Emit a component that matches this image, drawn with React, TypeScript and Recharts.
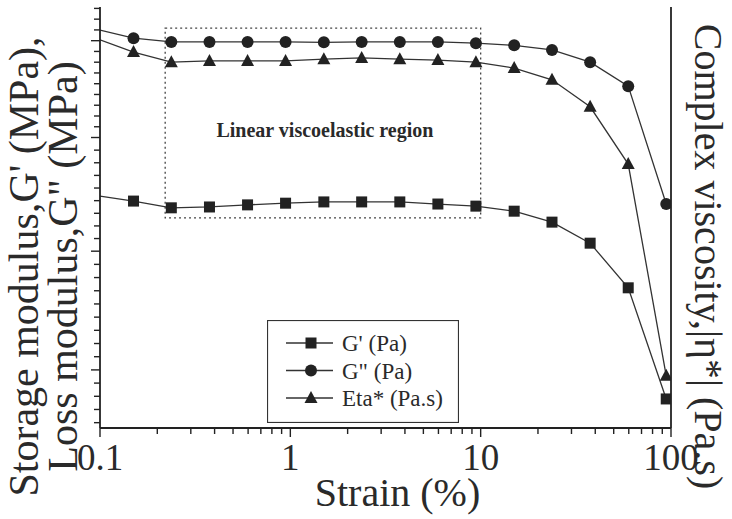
import React from 'react';
import { LineChart, Line, XAxis, YAxis, ReferenceArea } from 'recharts';

// Strain (%) values
const strain = [0.1, 0.15, 0.237, 0.376, 0.596, 0.944, 1.5, 2.37, 3.76, 5.96, 9.44, 15, 23.7, 37.6, 59.6, 94.4];
// Series (relative axis units; axes carry no numeric labels)
const gPrime = [55.1, 53.9, 52.3, 52.5, 53.0, 53.4, 53.7, 53.7, 53.7, 53.2, 52.7, 51.5, 48.9, 43.9, 33.3, 6.9];
const gDouble = [94.5, 92.6, 91.7, 91.7, 91.7, 91.7, 91.6, 91.7, 91.7, 91.7, 91.4, 90.9, 89.8, 86.9, 81.2, 53.2];
const eta = [92.2, 89.3, 86.9, 87.2, 87.2, 87.2, 87.6, 87.9, 87.6, 87.4, 86.9, 85.5, 82.7, 76.3, 62.7, 12.4];

const xDecades = [0.1, 1, 10, 100];
const xTickLabels = ['0.1', '1', '10', '100'];
const leftMajors = [13.8, 42, 69, 92];
const rightMajors = [12.4, 41.6, 67.7, 91.0];

const seriesNames = ["G' (Pa)", 'G" (Pa)', 'Eta* (Pa.s)'];

const data = strain.map((s, i) => ({ strain: s, gp: gPrime[i], gpp: gDouble[i], eta: eta[i] }));

const xTicks: number[] = [];
xDecades.forEach((d, i) => {
  if (i === xDecades.length - 1) { xTicks.push(d); return; }
  for (let k = 1; k <= 9; k++) xTicks.push(k * d);
});

function buildYTicks(majors: number[]) {
  const out: { v: number; major: boolean }[] = [];
  const step0 = (majors[1] - majors[0]) / 9;
  for (let v = majors[0] - step0; v > 0; v -= step0) out.push({ v, major: false });
  for (let i = 0; i < majors.length; i++) {
    out.push({ v: majors[i], major: true });
    if (i < majors.length - 1) {
      const st = (majors[i + 1] - majors[i]) / 9;
      for (let k = 1; k < 9; k++) out.push({ v: majors[i] + k * st, major: false });
    }
  }
  const stEnd = (majors[majors.length - 1] - majors[majors.length - 2]) / 9;
  for (let v = majors[majors.length - 1] + stEnd; v < 100; v += stEnd) out.push({ v, major: false });
  return out.sort((a, b) => a.v - b.v);
}
const leftTickInfo = buildYTicks(leftMajors);
const rightTickInfo = buildYTicks(rightMajors);

const FONT = '"Liberation Serif", "Times New Roman", serif';
const INK = '#222';
const TEXT = '#2a2a2a';

const isDecade = (v: number) => Math.abs(Math.log10(v) - Math.round(Math.log10(v))) < 1e-6;

const BottomTick = (p: any) => {
  const v = p.payload.value;
  const major = isDecade(v);
  const idx = xDecades.findIndex((d) => Math.abs(d - v) < 1e-9);
  return (
    <g>
      <line x1={p.x} x2={p.x} y1={p.y} y2={p.y + (major ? 9 : 6)} stroke={INK} strokeWidth={1.4} />
      {major && idx >= 0 && (
        <text x={p.x} y={p.y + 42} textAnchor="middle" fontSize={37} fontFamily={FONT} fill={TEXT}>
          {xTickLabels[idx]}
        </text>
      )}
    </g>
  );
};

const TopTick = (p: any) => {
  const major = isDecade(p.payload.value);
  return <line x1={p.x} x2={p.x} y1={p.y} y2={p.y + (major ? 9 : 6)} stroke={INK} strokeWidth={1.4} />;
};

const makeYTick = (info: { v: number; major: boolean }[], dir: number) => (p: any) => {
  const it = info.find((t) => Math.abs(t.v - p.payload.value) < 1e-6);
  const len = it && it.major ? 9 : 6;
  return <line x1={p.x} x2={p.x + dir * len} y1={p.y} y2={p.y} stroke={INK} strokeWidth={1.4} />;
};
const LeftTick = makeYTick(leftTickInfo, -1);
const RightTick = makeYTick(rightTickInfo, 1);

const SquareDot = (p: any) =>
  p.index === 0 ? <g key={`s${p.index}`} /> : (
    <rect key={`s${p.index}`} x={p.cx - 5.5} y={p.cy - 5.5} width={11} height={11} fill={INK} />
  );
const CircleDot = (p: any) =>
  p.index === 0 ? <g key={`c${p.index}`} /> : <circle key={`c${p.index}`} cx={p.cx} cy={p.cy} r={6} fill={INK} />;
const TriDot = (p: any) =>
  p.index === 0 ? <g key={`t${p.index}`} /> : (
    <polygon key={`t${p.index}`} points={`${p.cx},${p.cy - 7} ${p.cx - 6.5},${p.cy + 5} ${p.cx + 6.5},${p.cy + 5}`} fill={INK} />
  );

const LeftTitle = (p: any) => {
  const vb = p.viewBox || { x: 0, y: 7, width: 100, height: 421 };
  const cy = vb.y + vb.height / 2 + 49;
  const x1 = vb.x + 38;
  const x2 = vb.x + 77;
  return (
    <g>
      <text x={x1} y={cy} transform={`rotate(-90, ${x1}, ${cy})`} textAnchor="middle" fontSize={42} fontFamily={FONT} fill={TEXT}>
        Storage modulus,G' (MPa),
      </text>
      <text x={x2} y={cy} transform={`rotate(-90, ${x2}, ${cy})`} textAnchor="middle" fontSize={42} fontFamily={FONT} fill={TEXT}>
        Loss modulus,G" (MPa)
      </text>
    </g>
  );
};

const RightTitle = (p: any) => {
  const vb = p.viewBox || { x: 671, y: 7, width: 61, height: 421 };
  const cy = vb.y + vb.height / 2 + 39;
  const cx = vb.x + 24;
  return (
    <text x={cx} y={cy} transform={`rotate(90, ${cx}, ${cy})`} textAnchor="middle" fontSize={40} fontFamily={FONT} fill={TEXT}>
      Complex viscosity,|η*| (Pa.s)
    </text>
  );
};

const XTitle = (p: any) => {
  const vb = p.viewBox || { x: 100, y: 428, width: 571, height: 91 };
  return (
    <text x={vb.x + vb.width / 2 + 12} y={vb.y + 78} textAnchor="middle" fontSize={40} fontFamily={FONT} fill={TEXT}>
      Strain (%)
    </text>
  );
};

const RegionLabel = (p: any) => {
  const vb = p.viewBox;
  if (!vb) return null;
  return (
    <text x={vb.x + vb.width / 2 + 2} y={vb.y + vb.height / 2 + 14} textAnchor="middle" fontSize={20} fontWeight="bold" fontFamily={FONT} fill={TEXT}>
      Linear viscoelastic region
    </text>
  );
};

const Legend = () => {
  const markers = [
    (cx: number, cy: number) => <rect x={cx - 5.5} y={cy - 5.5} width={11} height={11} fill={INK} />,
    (cx: number, cy: number) => <circle cx={cx} cy={cy} r={6} fill={INK} />,
    (cx: number, cy: number) => <polygon points={`${cx},${cy - 7} ${cx - 6.5},${cy + 5} ${cx + 6.5},${cy + 5}`} fill={INK} />,
  ];
  return (
    <svg width={192} height={103} style={{ position: 'absolute', left: 267, top: 320 }}>
      <rect x={0.5} y={0.5} width={191} height={102} fill="white" stroke="#333" strokeWidth={1.2} />
      {seriesNames.map((n, i) => {
        const cy = 23 + i * 27.5;
        return (
          <g key={n}>
            <line x1={19} x2={66} y1={cy} y2={cy} stroke="#333" strokeWidth={1.3} />
            {markers[i](44, cy)}
            <text x={75} y={cy + 8} fontSize={23} fontFamily={FONT} fill={TEXT}>{n}</text>
          </g>
        );
      })}
    </svg>
  );
};

export default function App() {
  return (
    <div style={{ position: 'absolute', left: 0, top: 0, width: 732, height: 519, background: 'white' }}>
      <LineChart width={732} height={519} data={data} margin={{ top: 7, right: 0, bottom: 0, left: 0 }}>
        <XAxis
          dataKey="strain"
          type="number"
          scale="log"
          domain={[0.1, 100]}
          allowDataOverflow
          ticks={xTicks}
          interval={0}
          height={91}
          tickSize={0}
          tickMargin={0}
          tickLine={false}
          tick={<BottomTick />}
          axisLine={{ stroke: INK, strokeWidth: 1.8 }}
          label={<XTitle />}
        />
        <XAxis
          xAxisId="top"
          orientation="top"
          dataKey="strain"
          type="number"
          scale="log"
          domain={[0.1, 100]}
          allowDataOverflow
          ticks={xTicks}
          interval={0}
          height={0}
          tickSize={0}
          tickMargin={0}
          tickLine={false}
          tick={<TopTick />}
          axisLine={{ stroke: INK, strokeWidth: 1.8 }}
        />
        <YAxis
          yAxisId="left"
          type="number"
          domain={[0, 100]}
          ticks={leftTickInfo.map((t) => t.v)}
          interval={0}
          width={100}
          tickSize={0}
          tickMargin={0}
          tickLine={false}
          tick={<LeftTick />}
          axisLine={{ stroke: INK, strokeWidth: 1.8 }}
          label={<LeftTitle />}
        />
        <YAxis
          yAxisId="right"
          orientation="right"
          type="number"
          domain={[0, 100]}
          ticks={rightTickInfo.map((t) => t.v)}
          interval={0}
          width={61}
          tickSize={0}
          tickMargin={0}
          tickLine={false}
          tick={<RightTick />}
          axisLine={{ stroke: INK, strokeWidth: 1.8 }}
          label={<RightTitle />}
        />
        <ReferenceArea
          yAxisId="left"
          x1={0.22}
          x2={10}
          y1={49.9}
          y2={95.0}
          fill="none"
          fillOpacity={0}
          stroke="#444"
          strokeWidth={1.3}
          strokeDasharray="2 3"
          label={<RegionLabel />}
        />
        <Line yAxisId="left" dataKey="gp" name={seriesNames[0]} stroke="#333" strokeWidth={1.3} dot={SquareDot} isAnimationActive={false} />
        <Line yAxisId="left" dataKey="gpp" name={seriesNames[1]} stroke="#333" strokeWidth={1.3} dot={CircleDot} isAnimationActive={false} />
        <Line yAxisId="left" dataKey="eta" name={seriesNames[2]} stroke="#333" strokeWidth={1.3} dot={TriDot} isAnimationActive={false} />
      </LineChart>
      <Legend />
    </div>
  );
}
